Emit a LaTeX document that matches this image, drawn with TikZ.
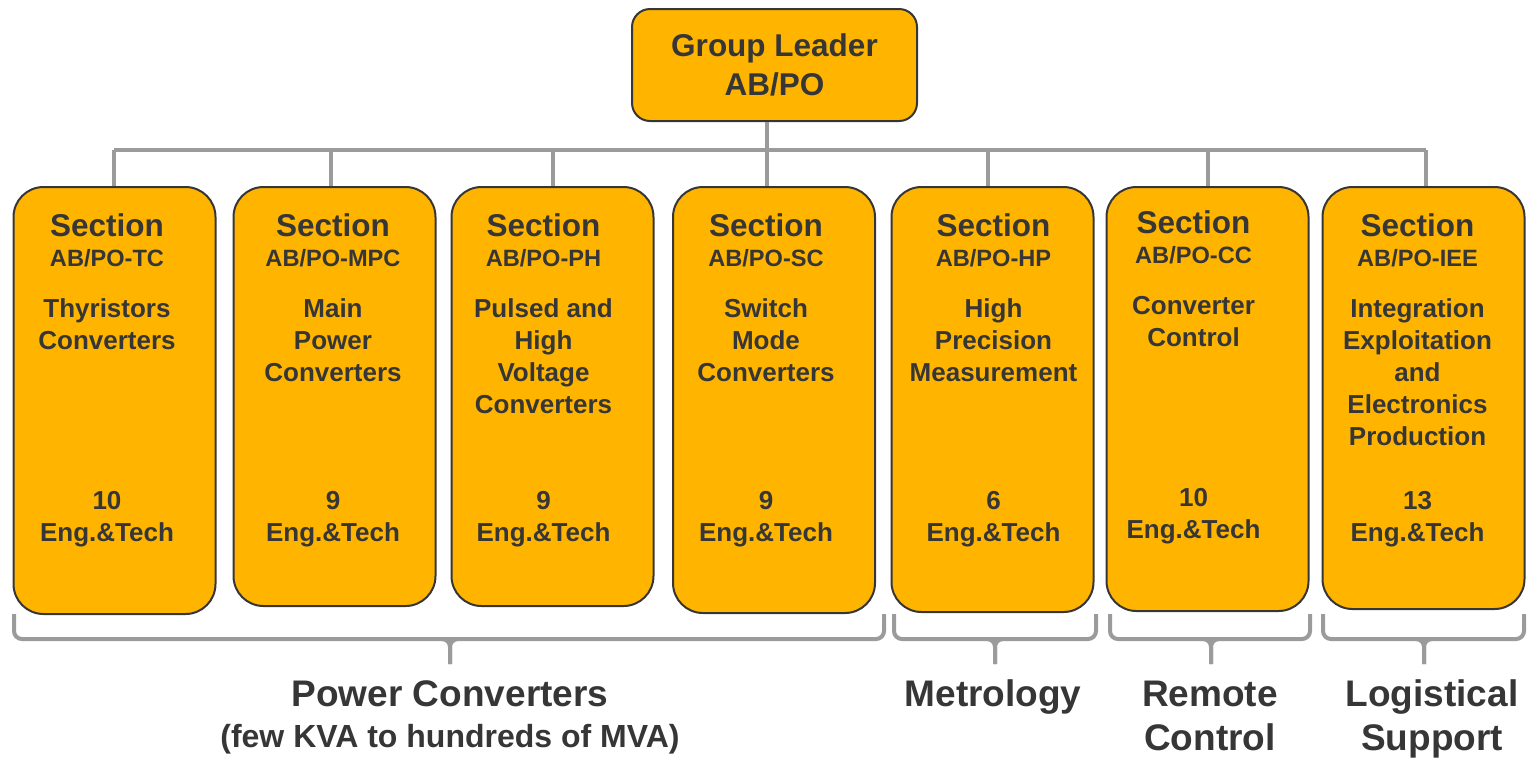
\documentclass[tikz,border=0pt]{standalone}
\usepackage{fontspec}
\setmainfont{Liberation Sans}
\definecolor{boxfill}{RGB}{255,180,0}
\definecolor{ink}{RGB}{54,54,54}
\definecolor{wiregray}{RGB}{155,155,155}

\begin{document}
\begin{tikzpicture}[
    x=0.5pt, y=-0.5pt,
    secbox/.style={draw=ink, line width=1pt, fill=boxfill, rounded corners=15pt,
                   minimum width=101pt, inner sep=0pt, anchor=north},
    leadbox/.style={draw=ink, line width=1pt, fill=boxfill, rounded corners=9pt,
                    minimum width=142.5pt, minimum height=56pt, align=center,
                    text=ink, font=\fontsize{15.75}{19.75}\bfseries\selectfont},
    txt/.style={text=ink, align=center, inner sep=0pt, anchor=base},
    secword/.style={txt, font=\fontsize{15.75}{19}\bfseries\selectfont},
    abbrtxt/.style={txt, font=\fontsize{11.8}{14}\bfseries\selectfont},
    ttltxt/.style={txt, font=\fontsize{13}{16}\bfseries\selectfont},
    grouptxt/.style={txt, font=\fontsize{18.5}{21.75}\bfseries\selectfont},
    wire/.style={draw=wiregray, line width=2pt},
    brace/.style={draw=wiregray, line width=2pt, rounded corners=4pt},
]
  \useasboundingbox (0,0) rectangle (1536,757);

  % group leader and bus
  \node[leadbox] (gl) at (774.5,65) {Group Leader\\AB/PO};
  \coordinate (bus) at (0,150);
  \draw[wire] (bus -| 114,0) -- (bus -| 1426,0);
  \draw[wire] (gl.south -| 767,0) -- (bus -| 767,0);

  % sections (texts sit on the baseline of their last line)
  \foreach \n/\x/\h/\drop/\tx/\dy/\nl/\abbr/\ttl/\cnt in {
      tc/114.5/427/114/107/0/2/{AB/PO-TC}/{Thyristors\\Converters}/10,
      mpc/334.5/419/331/333/0/3/{AB/PO-MPC}/{Main\\Power\\Converters}/9,
      ph/552.5/419/553/543.5/0/4/{AB/PO-PH}/{Pulsed and\\High\\Voltage\\Converters}/9,
      sc/774/426/767/766/0/3/{AB/PO-SC}/{Switch\\Mode\\Converters}/9,
      hp/992.5/425/988/993.5/0/3/{AB/PO-HP}/{High\\Precision\\Measurement}/6,
      cc/1207.5/424/1208/1193.5/-3/2/{AB/PO-CC}/{Converter\\Control}/10,
      iee/1423.5/422/1426/1417.5/0/5/{AB/PO-IEE}/{Integration\\Exploitation\\and\\Electronics\\Production}/13%
  }{
    \node[secbox, minimum height=\h*0.5pt] (\n) at (\x,186) {};
    \node[secword] at (\tx,236+\dy) {Section};
    \node[abbrtxt] at (\tx,266.5+\dy) {\abbr};
    \node[ttltxt] at (\tx,317+\dy+32*\nl-32) {\ttl};
    \node[ttltxt] at (\tx,541+\dy) {\cnt\\Eng.\&Tech};
    \draw[wire] (\n.north -| \drop,0) -- (bus -| \drop,0);
  }

  % brackets
  \foreach \a/\b/\m in {14/884/450, 894/1096/995, 1110/1310/1211, 1323/1524/1424}{
    \draw[brace] (\a,614) |- (\b,639) -- (\b,614);
    \draw[brace] (\m-7,639) -| (\m,664);
    \draw[brace] (\m+7,639) -| (\m,664);
  }

  % group labels
  \node[grouptxt] (pclab) at (450,706.5) {Power Converters};
  \node[txt, font=\fontsize{16}{19}\bfseries\selectfont] (pcsub) at (450,747.5)
    {(few KVA to hundreds of MVA)};
  \node[grouptxt] (metlab) at (993,706.5) {Metrology};
  \node[grouptxt] (rclab) at (1210,750) {Remote\\Control};
  \node[grouptxt] (lslab) at (1432,750) {Logistical\\Support};
\end{tikzpicture}
\end{document}
